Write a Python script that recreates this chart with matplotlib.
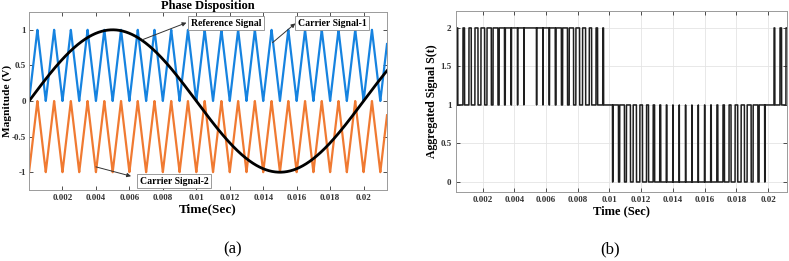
"""Phase disposition PWM: carriers vs reference (a) and aggregated output (b)."""
import matplotlib
matplotlib.use("Agg")
import matplotlib.pyplot as plt
import numpy as np

# signal parameters
ref_freq = 50.0          # Hz, peak at 0.005 s, trough at 0.015 s
ref_amp = 1.0
carrier_freq_a = 1000.0  # Hz, panel (a): one triangle per 1 ms
carrier_freq_b = 2500.0  # Hz, panel (b): ~25 pulses per half cycle
carrier1_levels = [0.0, 1.0]
carrier2_levels = [-1.0, 0.0]

xlim_a = [0.0, 0.0214]
ylim_a = [-1.25, 1.25]
xlim_b = [0.0003, 0.0212]
ylim_b = [-0.13, 2.22]
xticks = [0.002, 0.004, 0.006, 0.008, 0.01, 0.012, 0.014, 0.016, 0.018, 0.02]
xticklabels = ["0.002", "0.004", "0.006", "0.008", "0.01", "0.012", "0.014", "0.016", "0.018", "0.02"]
yticks_a = [-1, -0.5, 0, 0.5, 1]
yticklabels_a = ["-1", "-0.5", "0", "0.5", "1"]
yticks_b = [0, 0.5, 1, 1.5, 2]
yticklabels_b = ["0", "0.5", "1", "1.5", "2"]

BLUE = "#1683E0"
ORANGE = "#F07A32"
SERIF = "Liberation Serif"


def triangle(t, freq, lo, hi):
    # 0 at the valleys (t = k/freq), 1 at the peaks
    ph = (t * freq) % 1.0
    tri = 1.0 - np.abs(2.0 * ph - 1.0)
    return lo + (hi - lo) * tri


def style_axes(ax):
    ax.tick_params(direction="in", top=True, right=True, length=3, width=0.6,
                   labelsize=6.5, pad=3, colors="#333333")
    for s in ax.spines.values():
        s.set_color("#9a9a9a")
        s.set_linewidth(0.7)
    for lab in ax.get_xticklabels() + ax.get_yticklabels():
        lab.set_fontfamily(SERIF)
        lab.set_fontweight("bold")


fig = plt.figure(figsize=(7.89, 2.61), dpi=100)

# ---- (a) carriers and reference
ax1 = fig.add_axes([0.0368, 0.272, 0.4537, 0.682])
t = np.linspace(0, xlim_a[1], 20001)
ref = ref_amp * np.sin(2 * np.pi * ref_freq * t)
c1 = triangle(t, carrier_freq_a, *carrier1_levels)
c2 = triangle(t, carrier_freq_a, *carrier2_levels)
ax1.plot(t, c1, color=BLUE, lw=1.6)
ax1.plot(t, c2, color=ORANGE, lw=1.6)
ax1.plot(t, ref, color="black", lw=2.0)
ax1.set_xlim(xlim_a)
ax1.set_ylim(ylim_a)
ax1.set_xticks(xticks)
ax1.set_xticklabels(xticklabels)
ax1.set_yticks(yticks_a)
ax1.set_yticklabels(yticklabels_a)
style_axes(ax1)
ax1.tick_params(axis="y", pad=2)
ax1.set_title("Phase Disposition", fontfamily=SERIF, fontweight="bold", fontsize=9, pad=2)
ax1.set_xlabel("Time(Sec)", fontfamily=SERIF, fontweight="bold", fontsize=9.5, labelpad=1)
ax1.set_ylabel("Magnitude (V)", fontfamily=SERIF, fontweight="bold", fontsize=8.2)
ax1.yaxis.set_label_coords(-0.048, 0.5)

box = dict(boxstyle="square,pad=0.25", fc="white", ec="#8a8a8a", lw=0.6)
arrow = dict(arrowstyle="-|>", color="#333333", lw=0.7, mutation_scale=6, shrinkA=0, shrinkB=0)
notes = [
    ("Reference Signal", (0.01177, 1.09), (0.00677, 0.86), (0.00941, 1.10)),
    ("Carrier Signal-1", (0.01812, 1.09), (0.01456, 0.82), (0.01592, 1.09)),
    ("Carrier Signal-2", (0.00866, -1.127), (0.0040, -0.925), (0.0061, -1.056)),
]
for txt, pos, tail, head in notes:
    ax1.annotate("", xy=head, xytext=tail, arrowprops=arrow)
    ax1.text(pos[0], pos[1], txt, ha="center", va="center", fontsize=7,
             fontfamily=SERIF, fontweight="bold", bbox=box, zorder=5)

# ---- (b) aggregated signal
ax2 = fig.add_axes([0.5776, 0.2644, 0.4199, 0.6935])
tb = np.linspace(0, xlim_b[1], 200001)
refb = ref_amp * np.sin(2 * np.pi * ref_freq * tb)
s = (refb > triangle(tb, carrier_freq_b, *carrier1_levels)).astype(float) \
    + (refb > triangle(tb, carrier_freq_b, *carrier2_levels)).astype(float)
ax2.plot(tb, s, color="#1e1e1e", lw=1.1)
ax2.set_xlim(xlim_b)
ax2.set_ylim(ylim_b)
ax2.set_xticks(xticks)
ax2.set_xticklabels(xticklabels)
ax2.set_yticks(yticks_b)
ax2.set_yticklabels(yticklabels_b)
ax2.grid(True, color="#e4e4e4", lw=0.6)
ax2.set_axisbelow(True)
style_axes(ax2)
ax2.set_xlabel("Time (Sec)", fontfamily=SERIF, fontweight="bold", fontsize=9, labelpad=1)
ax2.set_ylabel("Aggregated Signal S(t)", fontfamily=SERIF, fontweight="bold", fontsize=8.5)
ax2.yaxis.set_label_coords(-0.053, 0.5)

fig.text(233 / 789, 1 - 249 / 261, "(a)", ha="center", va="center", fontsize=12, fontfamily=SERIF)
fig.text(610 / 789, 1 - 249 / 261, "(b)", ha="center", va="center", fontsize=12, fontfamily=SERIF)

fig.savefig("out.png", dpi=100)
